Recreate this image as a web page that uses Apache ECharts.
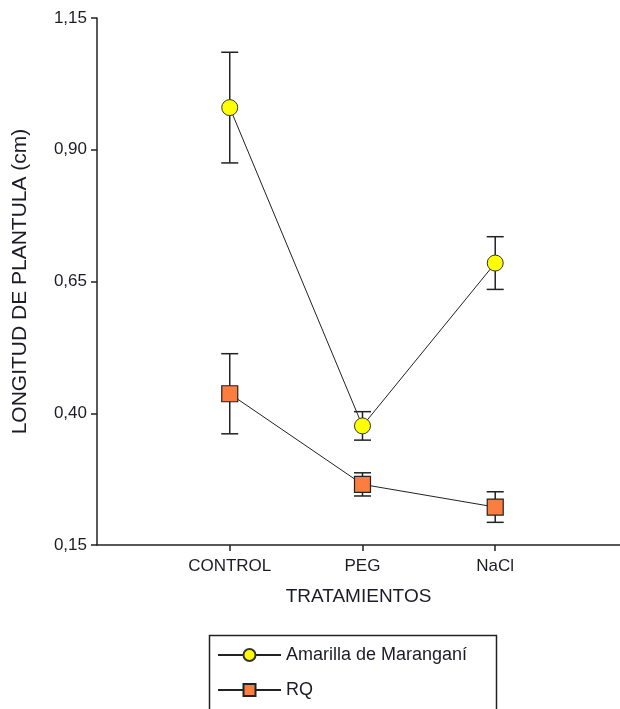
<!DOCTYPE html>
<html>
<head>
<meta charset="utf-8">
<script src="https://cdn.jsdelivr.net/npm/echarts@6/dist/echarts.min.js"></script>
<style>
html,body{margin:0;padding:0;background:#fff;}
#chart{width:620px;height:709px;}
</style>
</head>
<body>
<div id="chart"></div>
<script>
var categories = ['CONTROL', 'PEG', 'NaCl'];
var amarillaMean = [0.980, 0.376, 0.685];
var amarillaErr = [0.105, 0.027, 0.050];
var rqMean = [0.437, 0.265, 0.222];
var rqErr = [0.076, 0.022, 0.029];
var yTickLabels = ['0,15', '0,40', '0,65', '0,90', '1,15'];
var seriesNames = ['Amarilla de Marangan\u00ed', 'RQ'];

var FONT = '"Liberation Sans", Arial, sans-serif';
var TXT = '#1c1c28';

function pts(means) {
  return means.map(function (v, i) { return [i + 1, v]; });
}
function errData(means, errs) {
  return means.map(function (v, i) { return [i + 1, v - errs[i], v + errs[i]]; });
}
function renderErr(params, api) {
  var x = api.value(0);
  var lo = api.coord([x, api.value(1)]);
  var hi = api.coord([x, api.value(2)]);
  var hw = 8.5;
  var st = { stroke: '#222', lineWidth: 1.5 };
  return {
    type: 'group',
    children: [
      { type: 'line', shape: { x1: lo[0], y1: lo[1], x2: hi[0], y2: hi[1] }, style: st },
      { type: 'line', shape: { x1: lo[0] - hw, y1: lo[1], x2: lo[0] + hw, y2: lo[1] }, style: st },
      { type: 'line', shape: { x1: hi[0] - hw, y1: hi[1], x2: hi[0] + hw, y2: hi[1] }, style: st }
    ]
  };
}
function legendCfg(name, top) {
  return {
    data: [name], orient: 'vertical', left: 217, top: top, padding: 0,
    itemWidth: 63, itemHeight: 15, selectedMode: false,
    textStyle: { fontSize: 18, color: TXT, fontFamily: FONT }
  };
}

var chart = echarts.init(document.getElementById('chart'), null, { renderer: 'canvas' });
chart.setOption({
  backgroundColor: '#fff',
  animation: false,
  textStyle: { fontFamily: FONT },
  grid: { left: 97, right: 0, top: 18, bottom: 164, containLabel: false },
  xAxis: {
    type: 'value', min: 0, max: 3.94, interval: 1,
    name: 'TRATAMIENTOS', nameLocation: 'middle', nameGap: 42,
    nameTextStyle: { fontSize: 19, color: TXT, fontFamily: FONT },
    axisLine: { lineStyle: { color: '#222', width: 1.5 } },
    axisTick: { show: true, length: 6, lineStyle: { color: '#222', width: 1.5 } },
    axisLabel: {
      fontSize: 17, color: TXT, margin: 13, fontFamily: FONT,
      showMinLabel: false, showMaxLabel: false,
      formatter: function (v) { var k = Math.round(v); return (Math.abs(v - k) < 1e-6 && categories[k - 1]) ? categories[k - 1] : ''; }
    },
    splitLine: { show: false }
  },
  yAxis: {
    type: 'value', min: 0.15, max: 1.15, interval: 0.25,
    name: 'LONGITUD DE PLANTULA (cm)', nameLocation: 'middle', nameGap: 66, nameRotate: 90,
    nameTextStyle: { fontSize: 21, color: TXT, fontFamily: FONT },
    axisLine: { show: true, lineStyle: { color: '#222', width: 1.5 } },
    axisTick: { show: true, length: 6, lineStyle: { color: '#222', width: 1.5 } },
    axisLabel: {
      fontSize: 17, color: TXT, margin: 10, fontFamily: FONT,
      formatter: function (v) { var k = Math.round((v - 0.15) / 0.25); return yTickLabels[k] || ''; }
    },
    splitLine: { show: false }
  },
  legend: [legendCfg(seriesNames[0], 646), legendCfg(seriesNames[1], 681)],
  graphic: [{
    type: 'rect', left: 207, top: 633, silent: true,
    shape: { width: 287, height: 90 },
    style: { fill: 'none', stroke: '#222', lineWidth: 1.5 }
  }],
  series: [
    {
      type: 'custom', name: 'errA', renderItem: renderErr, z: 1,
      data: errData(amarillaMean, amarillaErr), silent: true,
      encode: { x: 0, y: [1, 2] }
    },
    {
      type: 'custom', name: 'errR', renderItem: renderErr, z: 1,
      data: errData(rqMean, rqErr), silent: true,
      encode: { x: 0, y: [1, 2] }
    },
    {
      type: 'line', name: seriesNames[0], data: pts(amarillaMean), z: 3,
      symbol: 'circle', symbolSize: 16,
      lineStyle: { color: '#222', width: 1 },
      itemStyle: { color: '#ffff00', borderColor: '#333', borderWidth: 1 }
    },
    {
      type: 'line', name: seriesNames[1], data: pts(rqMean), z: 3,
      symbol: 'rect', symbolSize: 16,
      lineStyle: { color: '#222', width: 1 },
      itemStyle: { color: '#fb7d3f', borderColor: '#222', borderWidth: 1.2 }
    }
  ]
});
</script>
</body>
</html>
